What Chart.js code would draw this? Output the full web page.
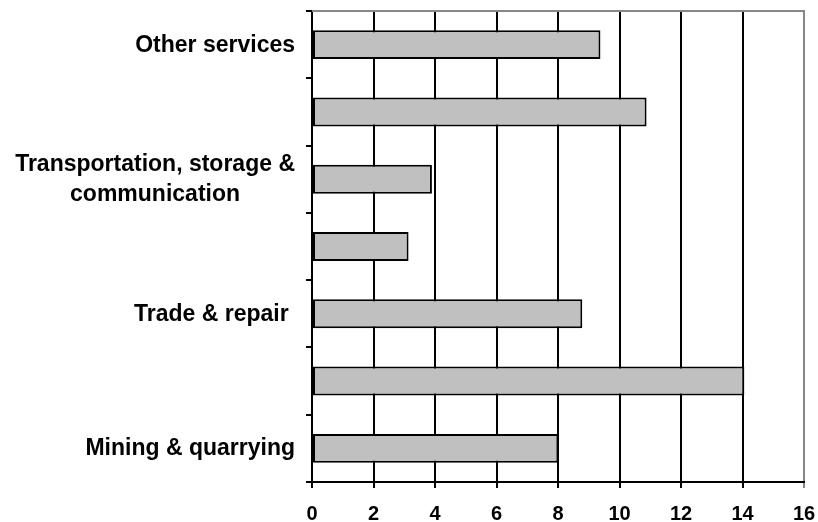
<!DOCTYPE html>
<html lang="en">
<head>
    <meta charset="UTF-8">
    <title>Sector bars</title>
    <script src="https://cdn.jsdelivr.net/npm/chart.js@4.4.0/dist/chart.umd.min.js"></script>
    <style>
        body { margin: 0; background: #fff; }
        #wrap { width: 818px; height: 522px; position: relative; }
    </style>
</head>
<body>
    <div id="wrap"><canvas id="sectorChart"></canvas></div>

    <script>
        // Categories, top to bottom. Only every other name is printed in the source picture.
        const categories = [
            'Other services',
            'Financial services',
            ['Transportation, storage &', 'communication'],
            'Hotels & restaurants',
            'Trade & repair ',
            'Manufacturing',
            'Mining & quarrying'
        ];
        const values = [9.38, 10.88, 3.9, 3.14, 8.79, 14.06, 8.01];
        const xMin = 0;
        const xMax = 16;
        const xStep = 2;

        const fontFamily = 'Arial, "Liberation Sans", sans-serif';
        Chart.defaults.font.family = fontFamily;

        // Draws the category names (centered multi-line block, right edge near the axis)
        // and the grey top edge of the plot area.
        const sideLabels = {
            id: 'sideLabels',
            afterDraw(chart) {
                const ctx = chart.ctx;
                const y = chart.scales.y;
                const area = chart.chartArea;
                ctx.save();

                ctx.strokeStyle = '#888';
                ctx.lineWidth = 2;
                ctx.beginPath();
                ctx.moveTo(area.left, area.top);
                ctx.lineTo(area.right + 1, area.top);
                ctx.stroke();

                ctx.font = 'bold 23px ' + fontFamily;
                ctx.fillStyle = '#000';
                ctx.textAlign = 'center';
                ctx.textBaseline = 'alphabetic';
                const right = area.left - 17;
                const lineH = 30;
                categories.forEach((cat, i) => {
                    if (i % 2 !== 0) return;
                    const lines = Array.isArray(cat) ? cat : [cat];
                    const w = Math.max(...lines.map(l => ctx.measureText(l).width));
                    const cx = right - w / 2;
                    const cy = y.getPixelForTick(i) + 7;
                    lines.forEach((l, k) => {
                        ctx.fillText(l, cx, cy + (k - (lines.length - 1) / 2) * lineH);
                    });
                });
                ctx.restore();
            }
        };

        const ctx = document.getElementById('sectorChart').getContext('2d');
        new Chart(ctx, {
            type: 'bar',
            data: {
                labels: categories,
                datasets: [{
                    data: values,
                    backgroundColor: '#c0c0c0',
                    borderColor: '#000',
                    borderWidth: 2,
                    borderSkipped: false,
                    barPercentage: 0.43,
                    categoryPercentage: 1
                }]
            },
            options: {
                indexAxis: 'y',
                responsive: true,
                maintainAspectRatio: false,
                animation: false,
                layout: { padding: { top: 11, right: 14, bottom: 0, left: 0 } },
                scales: {
                    x: {
                        min: xMin,
                        max: xMax,
                        afterFit: s => {
                            s.height = 40;
                            s.paddingLeft = 0;
                            s.paddingRight = 0;
                        },
                        ticks: {
                            stepSize: xStep,
                            color: '#000',
                            padding: 14,
                            font: { size: 20, weight: 'bold' }
                        },
                        grid: {
                            color: c => (c.tick && c.tick.value === xMax ? '#888' : '#000'),
                            lineWidth: 2,
                            tickLength: 6
                        },
                        border: { color: '#000', width: 2 }
                    },
                    y: {
                        afterFit: s => { s.width = 312; },
                        ticks: { autoSkip: false, callback: () => '' },
                        grid: {
                            offset: true,
                            drawOnChartArea: false,
                            color: '#000',
                            lineWidth: 2,
                            tickLength: 6
                        },
                        border: { color: '#000', width: 2 }
                    }
                },
                plugins: {
                    legend: { display: false },
                    tooltip: { enabled: false }
                }
            },
            plugins: [sideLabels]
        });
    </script>
</body>
</html>
